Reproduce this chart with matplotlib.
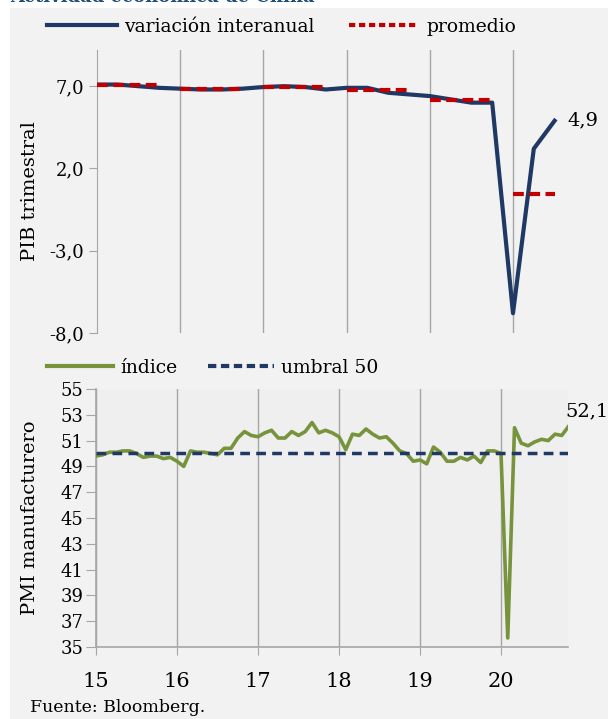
import matplotlib
matplotlib.use('Agg')
import matplotlib.pyplot as plt
from matplotlib.patches import Rectangle
from matplotlib.lines import Line2D

plt.rcParams['font.family'] = ['DejaVu Serif']

# PIB trimestral (variacion interanual, %), 2015T1 - 2020T3
pib_x = [15 + 0.25 * i for i in range(23)]
pib = [7.1, 7.1, 7.0, 6.9,
       6.85, 6.8, 6.8, 6.85,
       6.95, 7.0, 6.95, 6.8,
       6.9, 6.9, 6.6, 6.5,
       6.4, 6.2, 6.0, 6.0,
       -6.8, 3.2, 4.9]
# promedio anual: (inicio, fin, valor)
prom_years = [15, 16, 17, 18, 19, 20]
prom_end = [15.75, 16.75, 17.75, 18.75, 19.75, 20.5]
prom_val = [7.05, 6.86, 6.93, 6.76, 6.15, 0.43]

# PMI manufacturero mensual, ene-2015 - nov-2020
pmi_x = [15 + i / 12 for i in range(71)]
pmi = [49.8, 49.9, 50.1, 50.1, 50.2, 50.2, 50.0, 49.7, 49.8, 49.8, 49.6, 49.7,
       49.4, 49.0, 50.2, 50.1, 50.1, 50.0, 49.9, 50.4, 50.4, 51.2, 51.7, 51.4,
       51.3, 51.6, 51.8, 51.2, 51.2, 51.7, 51.4, 51.7, 52.4, 51.6, 51.8, 51.6,
       51.3, 50.3, 51.5, 51.4, 51.9, 51.5, 51.2, 51.3, 50.8, 50.2, 50.0, 49.4,
       49.5, 49.2, 50.5, 50.1, 49.4, 49.4, 49.7, 49.5, 49.8, 49.3, 50.2, 50.2,
       50.0, 35.7, 52.0, 50.8, 50.6, 50.9, 51.1, 51.0, 51.5, 51.4, 52.1]

top_ticks = [7, 2, -3, -8]
top_labels = ['7,0', '2,0', '-3,0', '-8,0']
years = [15, 16, 17, 18, 19, 20]
pmi_ticks = list(range(35, 56, 2))

navy = '#1f3864'
red = '#c00000'
green = '#77933c'
grid_c = '#a6a6a6'
bg = '#f2f2f2'

W, H = 608, 719
fig = plt.figure(figsize=(W / 100, H / 100), dpi=100)
fig.patch.set_facecolor('white')
fig.patches.append(Rectangle((10 / W, 0), 1 - 10 / W, 1 - 8 / H,
                             transform=fig.transFigure, facecolor=bg,
                             edgecolor='none', zorder=-10))
# titulo cortado en el borde superior, como en el original
fig.text(10 / W, 1 - 2 / H, 'Actividad económica de China', color='#1f4e79',
         fontsize=13, fontweight='bold', va='baseline')

# --- PIB ---
ax1 = fig.add_axes([97 / W, 1 - 333 / H, 471 / W, 283 / H])
ax1.set_facecolor('none')
ax1.plot(pib_x, pib, color=navy, lw=3, solid_joinstyle='round', zorder=3)
for a, b, v in zip(prom_years, prom_end, prom_val):
    ax1.plot([a, b], [v, v], color=red, lw=3, dashes=(2.6, 1.3), zorder=4)
ax1.annotate('4,9', (pib_x[-1], pib[-1]), xytext=(9, 0),
             textcoords='offset points', va='center', ha='left', fontsize=14)
ax1.set_xlim(15, 15 + 471 / 83.2)
ax1.set_ylim(-8, 9.2)
ax1.set_xticks(years[1:])
ax1.set_xticklabels([])
ax1.tick_params(axis='x', length=0)
ax1.grid(axis='x', color=grid_c, lw=1)
ax1.set_yticks(top_ticks)
ax1.set_yticklabels(top_labels)
ax1.tick_params(axis='y', length=6, color=grid_c, labelsize=13, pad=3)
for s in ['top', 'right', 'bottom']:
    ax1.spines[s].set_visible(False)
ax1.spines['left'].set_color(grid_c)
ax1.set_ylabel('PIB trimestral', fontsize=14)
ax1.yaxis.set_label_coords(-(97 - 39) / 471, 0.5)

h1 = [Line2D([], [], color=navy, lw=3),
      Line2D([], [], color=red, lw=3, dashes=(1.5, 0.9))]
fs = 13.5 * 100 / 72
fig.legend(h1, ['variación interanual', 'promedio'], loc='center left',
           bbox_to_anchor=(47 / W, 1 - 27 / H), ncol=2, frameon=False,
           fontsize=13.5, handlelength=70 / fs, handletextpad=7 / fs,
           columnspacing=35 / fs, borderpad=0, borderaxespad=0)

# --- PMI ---
ax2 = fig.add_axes([96 / W, 1 - 647 / H, 472 / W, 258 / H])
ax2.set_facecolor('#efefef')
ax2.plot(pmi_x, pmi, color=green, lw=2.6, solid_joinstyle='round', zorder=3)
ax2.axhline(50, color=navy, lw=2.5, dashes=(2.8, 1.8), zorder=4)
ax2.annotate('52,1', (pmi_x[-1], pmi[-1]), xytext=(-2, 11),
             textcoords='offset points', va='center', ha='left', fontsize=14)
ax2.set_xlim(15, 15 + 472 / 81)
ax2.set_ylim(35, 55)
ax2.set_xticks(years)
ax2.set_xticklabels([str(y) for y in years])
ax2.set_yticks(pmi_ticks)
ax2.grid(axis='x', color=grid_c, lw=1)
ax2.tick_params(axis='x', length=6, color=grid_c, labelsize=15, pad=12)
ax2.tick_params(axis='y', length=7, color=grid_c, labelsize=13, pad=2)
for s in ['top', 'right']:
    ax2.spines[s].set_visible(False)
for s in ['left', 'bottom']:
    ax2.spines[s].set_color(grid_c)
    ax2.spines[s].set_linewidth(1.2)
ax2.set_ylabel('PMI manufacturero', fontsize=14)
ax2.yaxis.set_label_coords(-(96 - 39) / 472, 0.5)

h2 = [Line2D([], [], color=green, lw=3),
      Line2D([], [], color=navy, lw=3, dashes=(2.0, 1.1))]
fig.legend(h2, ['índice', 'umbral 50'], loc='center left',
           bbox_to_anchor=(47 / W, 1 - 368 / H), ncol=2, frameon=False,
           fontsize=13.5, handlelength=66 / fs, handletextpad=7 / fs,
           columnspacing=31 / fs, borderpad=0, borderaxespad=0)

fig.text(30 / W, 1 - 707 / H, 'Fuente: Bloomberg.', fontsize=12.5, va='center')

fig.savefig('out.png', dpi=100, facecolor=fig.get_facecolor())
